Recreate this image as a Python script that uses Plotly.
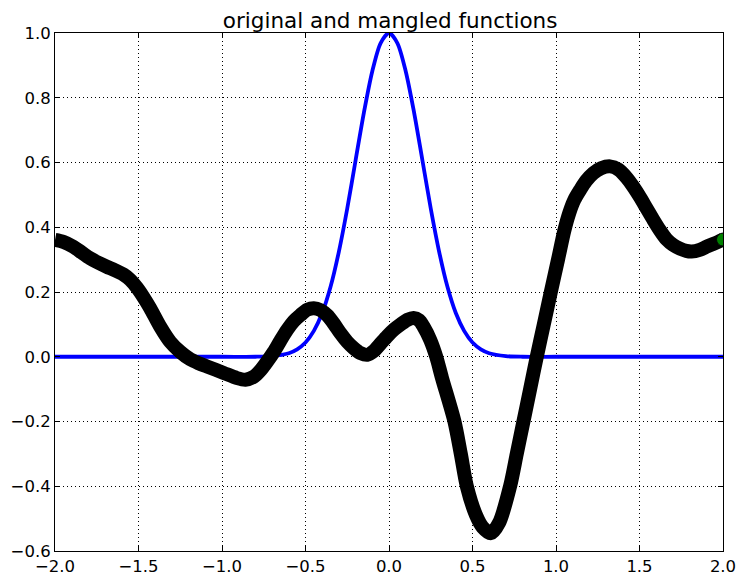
import plotly.graph_objects as go

# Original function (blue)
orig_x = [-2.0, -1.0, -0.8, -0.7, -0.6, -0.55, -0.5, -0.45, -0.4, -0.35, -0.3, -0.25, -0.2, -0.15, -0.1, -0.05,
          0.0, 0.05, 0.1, 0.15, 0.2, 0.25, 0.3, 0.35, 0.4, 0.45, 0.5, 0.55, 0.6, 0.7, 0.8, 1.0, 2.0]
orig_y = [0.0, 0.0, 0.0, 0.002, 0.011, 0.023, 0.044, 0.080, 0.135, 0.216, 0.325, 0.458, 0.607, 0.755, 0.882, 0.969,
          1.0, 0.969, 0.882, 0.755, 0.607, 0.458, 0.325, 0.216, 0.135, 0.080, 0.044, 0.023, 0.011, 0.002, 0.0, 0.0, 0.0]

# Mangled function (black-edged green markers)
mang_x = [-2.00, -1.95, -1.89, -1.84, -1.79, -1.74, -1.69, -1.64, -1.59, -1.55, -1.51, -1.47, -1.43, -1.37,
          -1.31, -1.25, -1.19, -1.14, -1.09, -0.99, -0.91, -0.86, -0.81, -0.77, -0.73, -0.69, -0.65, -0.61,
          -0.57, -0.53, -0.49, -0.45, -0.41, -0.37, -0.33, -0.29, -0.25, -0.21, -0.17, -0.13, -0.09, -0.05,
          -0.01, 0.03, 0.07, 0.11, 0.147, 0.18, 0.207, 0.247, 0.283, 0.317, 0.392, 0.43, 0.466,
          0.52, 0.56, 0.61, 0.66, 0.725, 0.765, 0.805, 0.845, 0.885, 0.927, 0.969, 1.012, 1.05, 1.08, 1.11,
          1.144, 1.18, 1.224, 1.27, 1.324, 1.375, 1.423, 1.463, 1.503, 1.543, 1.583, 1.623, 1.663, 1.702, 1.742,
          1.78, 1.812, 1.86, 1.902, 1.95, 2.0]
mang_y = [0.361, 0.355, 0.340, 0.322, 0.304, 0.290, 0.278, 0.267, 0.254, 0.238, 0.214, 0.184, 0.150, 0.093,
          0.046, 0.015, -0.008, -0.020, -0.030, -0.050, -0.066, -0.071, -0.062, -0.042, -0.015, 0.015, 0.050, 0.083,
          0.110, 0.129, 0.145, 0.150, 0.144, 0.128, 0.102, 0.072, 0.046, 0.026, 0.011, 0.006, 0.018, 0.041,
          0.064, 0.084, 0.100, 0.114, 0.120, 0.113, 0.093, 0.052, 0.0, -0.065, -0.200, -0.300, -0.400,
          -0.488, -0.526, -0.545, -0.512, -0.400, -0.300, -0.200, -0.100, 0.0, 0.100, 0.200, 0.300, 0.390,
          0.445, 0.485, 0.515, 0.543, 0.567, 0.582, 0.588, 0.578, 0.553, 0.525, 0.493, 0.458, 0.423, 0.390, 0.362,
          0.345, 0.334, 0.327, 0.325, 0.330, 0.340, 0.350, 0.362]

title_text = "original and mangled functions"

fig = go.Figure()
fig.add_trace(go.Scatter(x=orig_x, y=orig_y, mode="lines",
                         line=dict(color="#0000ff", width=3.8, shape="spline", smoothing=0.8),
                         showlegend=False, hoverinfo="skip"))
fig.add_trace(go.Scatter(x=mang_x, y=mang_y, mode="lines",
                         line=dict(color="#000000", width=14, shape="spline", smoothing=0.8),
                         showlegend=False, hoverinfo="skip"))
# last marker of the mangled scatter (green face, black edge), clipped at the axes edge
fig.add_trace(go.Scatter(x=mang_x[-1:], y=mang_y[-1:], mode="markers",
                         marker=dict(color="#008000", size=13, line=dict(color="#000000", width=1)),
                         showlegend=False, hoverinfo="skip", cliponaxis=True))

axis_common = dict(showline=True, linecolor="black", linewidth=1, mirror="ticks",
                   ticks="inside", ticklen=5, tickcolor="black", tickwidth=1,
                   showgrid=True, gridcolor="black", gridwidth=1, griddash="1px,3px",
                   zeroline=False, automargin=False,
                   tickfont=dict(family="DejaVu Sans", size=16.5, color="black"))

fig.update_xaxes(range=[-2, 2], tick0=-2, dtick=0.5, tickformat=".1f", **axis_common)
fig.update_yaxes(range=[-0.6, 1.0], tick0=-0.6, dtick=0.2, tickformat=".1f", **axis_common)

fig.update_layout(
    width=741, height=578,
    margin=dict(l=54.5, r=17.5, t=33.3, b=27, autoexpand=False),
    paper_bgcolor="white", plot_bgcolor="white",
    title=dict(text=title_text, x=0.5265, xanchor="center", y=1 - 28 / 578, yanchor="bottom",
               font=dict(family="DejaVu Sans", size=21.5, color="black")),
)

fig.write_html("out.html",
               config={"displayModeBar": False, "staticPlot": True},
               post_script="document.body.style.margin='0';document.body.style.overflow='hidden';")
